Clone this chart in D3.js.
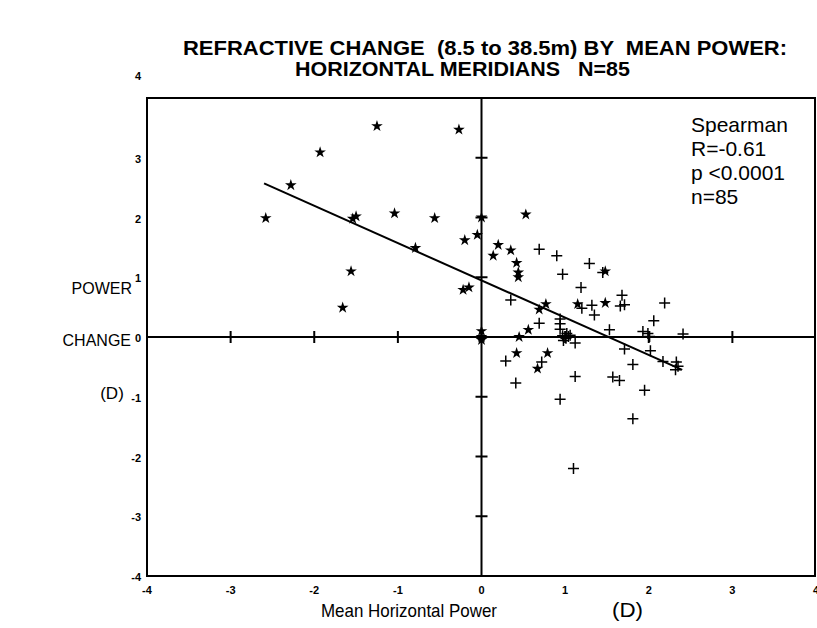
<!doctype html>
<html>
<head>
<style>
body { margin: 0; background: #fff; }
text { font-family: "Liberation Sans", Arial, sans-serif; fill: #000; white-space: pre; }
.frame { fill: none; stroke: #000; stroke-width: 2px; }
.axis { stroke: #000; stroke-width: 2px; }
.fit { stroke: #000; stroke-width: 2px; }
.plus { stroke: #000; stroke-width: 1.5px; fill: none; }
</style>
</head>
<body>
<div id="root"></div>
<script src="https://d3js.org/d3.v7.min.js"></script>
<script>

// star markers
var starX = [-2.58, -2.28, -1.93, -1.25, -0.27, -1.54, -1.50, -1.04, -0.56, 0.00,
	-0.79, -0.20, -0.05, -1.56, -1.66, -0.22, -0.15, 0.00, 0.00, 0.20,
	0.14, 0.35, 0.42, 0.44, 0.44, 0.77, 0.69, 1.15, 1.48, 1.48,
	0.56, 0.45, 0.42, 0.79, 0.67, 0.00, 0.53];
var starY = [1.99, 2.54, 3.09, 3.53, 3.47, 1.98, 2.02, 2.07, 1.99, 2.00,
	1.49, 1.62, 1.71, 1.10, 0.49, 0.79, 0.83, 0.10, 0.00, 1.54,
	1.36, 1.45, 1.24, 1.08, 1.00, 0.55, 0.46, 0.55, 1.10, 0.57,
	0.12, 0.00, -0.27, -0.27, -0.53, -0.05, 2.05];

// plus markers
var plusX = [0.69, 0.90, 1.29, 0.97, 1.19, 0.35, 1.20, 1.32, 1.35, 0.69,
	0.94, 0.94, 0.94, 0.97, 1.01, 1.04, 1.12, 0.98, 1.45, 1.68,
	1.66, 1.71, 2.19, 2.06, 1.53, 1.93, 1.99, 2.01, 2.41, 0.29,
	0.72, 0.41, 1.12, 0.94, 1.10, 1.71, 2.02, 1.81, 2.17, 2.33,
	2.32, 2.35, 1.57, 1.65, 1.95, 1.81, 1.06, 1.02];
var plusY = [1.47, 1.36, 1.23, 1.05, 0.83, 0.62, 0.48, 0.53, 0.37, 0.23,
	0.30, 0.22, 0.13, 0.02, -0.02, 0.01, -0.10, -0.06, 1.08, 0.70,
	0.52, 0.54, 0.57, 0.27, 0.12, 0.09, 0.06, 0.01, 0.05, -0.40,
	-0.42, -0.77, -0.66, -1.04, -2.20, -0.20, -0.23, -0.46, -0.41, -0.42,
	-0.55, -0.49, -0.67, -0.73, -0.89, -1.37, 0.03, 0.06];

// regression line ends
var fitX = [-2.6, 2.4];
var fitY = [2.57, -0.55];

var tickVals = [-4, -3, -2, -1, 0, 1, 2, 3, 4];
var statLines = ['Spearman', 'R=-0.61', 'p <0.0001', 'n=85'];

var W = 817, H = 628;
var x = d3.scaleLinear().domain([-4, 4]).range([147, 816]);
var y = d3.scaleLinear().domain([-4, 4]).range([576, 98]);

var svg = d3.select('#root').append('svg')
	.attr('width', W)
	.attr('height', H);

// title
svg.append('text')
	.attr('x', 183).attr('y', 55)
	.attr('textLength', 604).attr('lengthAdjust', 'spacingAndGlyphs')
	.style('font-size', '20px').style('font-weight', 'bold')
	.text('REFRACTIVE CHANGE  (8.5 to 38.5m) BY  MEAN POWER:');
svg.append('text')
	.attr('x', 295).attr('y', 76)
	.attr('textLength', 335).attr('lengthAdjust', 'spacingAndGlyphs')
	.style('font-size', '20px').style('font-weight', 'bold')
	.text('HORIZONTAL MERIDIANS   N=85');

// frame
svg.append('rect')
	.attr('class', 'frame')
	.attr('x', x(-4)).attr('y', y(4))
	.attr('width', x(4) - x(-4) - 1).attr('height', y(-4) - y(4));

// zero axes
svg.append('line').attr('class', 'axis')
	.attr('x1', x(-4)).attr('x2', x(4)).attr('y1', y(0)).attr('y2', y(0));
svg.append('line').attr('class', 'axis')
	.attr('x1', x(0)).attr('x2', x(0)).attr('y1', y(4)).attr('y2', y(-4));

var inner = tickVals.filter(function(d){ return d !== 0 && Math.abs(d) !== 4; });

svg.selectAll('.xtick').data(inner).enter().append('line')
	.attr('class', 'axis')
	.attr('x1', function(d){ return x(d); }).attr('x2', function(d){ return x(d); })
	.attr('y1', y(0) - 6).attr('y2', y(0) + 6);

svg.selectAll('.ytick').data(inner).enter().append('line')
	.attr('class', 'axis')
	.attr('x1', x(0) - 6).attr('x2', x(0) + 6)
	.attr('y1', function(d){ return y(d); }).attr('y2', function(d){ return y(d); });

// tick labels
svg.selectAll('.xlab').data(tickVals).enter().append('text')
	.attr('x', function(d){ return x(d); })
	.attr('y', 594)
	.attr('text-anchor', 'middle')
	.style('font-size', '11px').style('font-weight', 'bold')
	.text(function(d){ return d; });

svg.selectAll('.ylab').data(tickVals).enter().append('text')
	.attr('x', 141)
	.attr('y', function(d){ return d === 4 ? 80 : y(d) + 5; })
	.attr('text-anchor', 'end')
	.style('font-size', '11px').style('font-weight', 'bold')
	.text(function(d){ return d; });

// axis titles
svg.append('text').attr('x', 321).attr('y', 617)
	.attr('textLength', 176).attr('lengthAdjust', 'spacingAndGlyphs')
	.style('font-size', '19px')
	.text('Mean Horizontal Power');
svg.append('text').attr('x', 612).attr('y', 617)
	.attr('textLength', 31).attr('lengthAdjust', 'spacingAndGlyphs')
	.style('font-size', '20px')
	.text('(D)');

svg.append('text').attr('x', 132).attr('y', 294)
	.attr('text-anchor', 'end')
	.style('font-size', '16px').text('POWER');
svg.append('text').attr('x', 131).attr('y', 346)
	.attr('text-anchor', 'end')
	.style('font-size', '16px').text('CHANGE');
svg.append('text').attr('x', 112).attr('y', 399)
	.attr('text-anchor', 'middle').style('font-size', '17px').text('(D)');

// stats box
svg.selectAll('.stat').data(statLines).enter().append('text')
	.attr('x', 691)
	.attr('y', function(d, i){ return 132 + i * 24; })
	.style('font-size', '21px')
	.text(function(d){ return d; });

// regression line
svg.append('line').attr('class', 'fit')
	.attr('x1', x(fitX[0])).attr('y1', y(fitY[0]))
	.attr('x2', x(fitX[1])).attr('y2', y(fitY[1]));

// points
var stars = starX.map(function(v, i){ return [v, starY[i]]; });
var pluses = plusX.map(function(v, i){ return [v, plusY[i]]; });

svg.selectAll('.star').data(stars).enter().append('path')
	.attr('d', d3.symbol().type(d3.symbolStar).size(42))
	.attr('fill', '#000')
	.attr('transform', function(d){ return 'translate(' + x(d[0]) + ',' + y(d[1]) + ')'; });

svg.selectAll('.pl').data(pluses).enter().append('path')
	.attr('class', 'plus')
	.attr('d', 'M-5.5,0H5.5M0,-5.5V5.5')
	.attr('transform', function(d){ return 'translate(' + x(d[0]) + ',' + y(d[1]) + ')'; });

</script>
</body>
</html>
